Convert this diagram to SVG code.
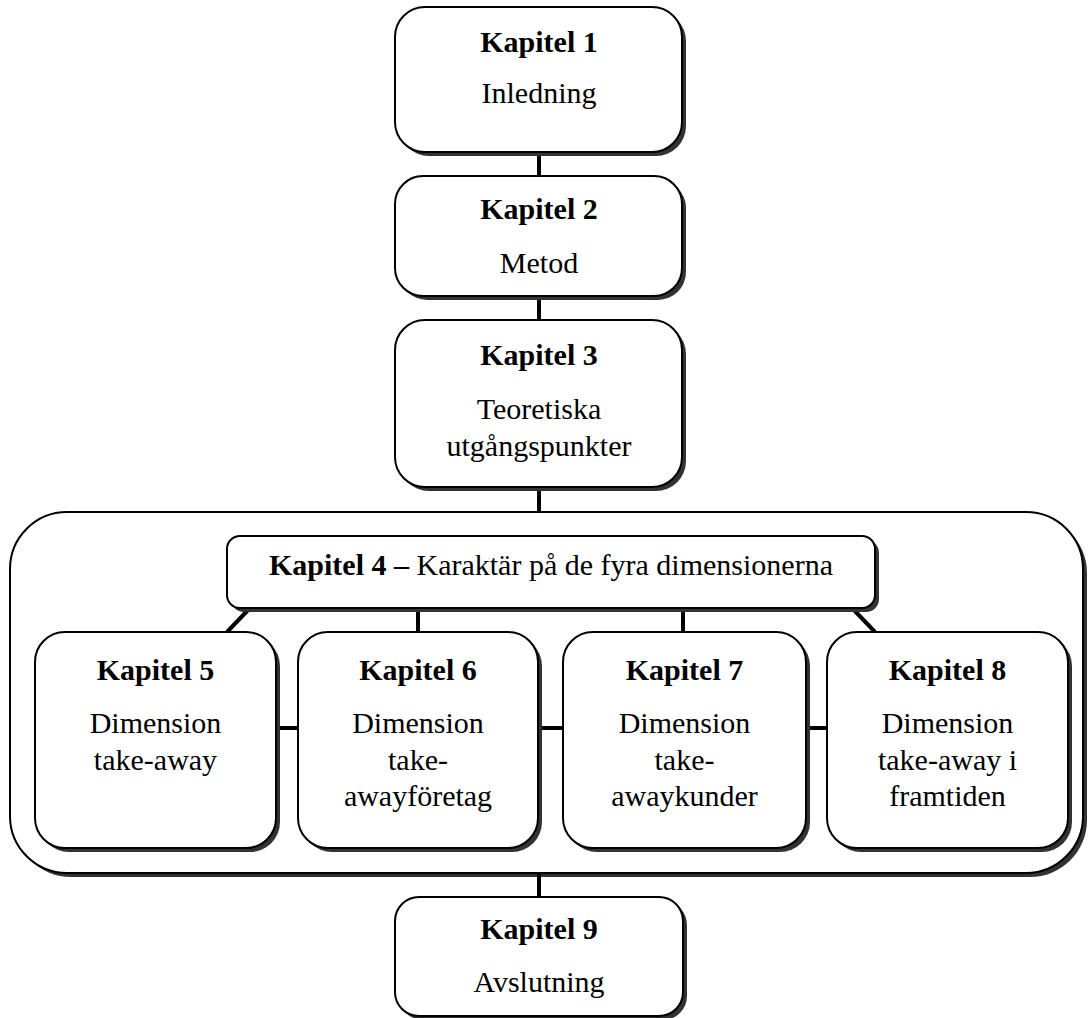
<svg xmlns="http://www.w3.org/2000/svg" width="1088" height="1018" viewBox="0 0 1088 1018">
<style>
.box{fill:#fff;stroke:#000;stroke-width:2}
.sh{fill:#333}
.t{font-family:"Liberation Serif","Times New Roman",serif;font-size:30px;fill:#000;text-anchor:middle}
.b{font-weight:bold}
.c{stroke:#000;stroke-width:4;fill:none}
</style>
<rect width="1088" height="1018" fill="#fff"/>
<g id="container">
<rect class="sh" x="14" y="516" width="1073" height="361" rx="57"/>
<rect class="box" x="10" y="512" width="1073" height="361" rx="57"/>
</g>
<g id="connectors">
<line class="c" x1="539" y1="152" x2="539" y2="176"/>
<line class="c" x1="539" y1="296" x2="539" y2="320"/>
<line class="c" x1="539" y1="487" x2="539" y2="512"/>
<line class="c" x1="539" y1="873" x2="539" y2="897"/>
<line class="c" x1="250" y1="608" x2="227" y2="632"/>
<line class="c" x1="418" y1="608" x2="418" y2="632"/>
<line class="c" x1="683" y1="608" x2="683" y2="632"/>
<line class="c" x1="852" y1="608" x2="875" y2="632"/>
<line class="c" x1="276" y1="728" x2="298" y2="728"/>
<line class="c" x1="538" y1="728" x2="563" y2="728"/>
<line class="c" x1="806" y1="728" x2="827" y2="728"/>
</g>
<g id="kap1">
<rect class="sh" x="399" y="11" width="287" height="145" rx="30"/>
<rect class="box" x="395" y="7" width="287" height="145" rx="30"/>
<text class="t b" x="539" y="52">Kapitel 1</text>
<text class="t" x="539" y="103">Inledning</text>
</g>
<g id="kap2">
<rect class="sh" x="399" y="180" width="287" height="120" rx="28"/>
<rect class="box" x="395" y="176" width="287" height="120" rx="28"/>
<text class="t b" x="539" y="219">Kapitel 2</text>
<text class="t" x="539" y="273">Metod</text>
</g>
<g id="kap3">
<rect class="sh" x="399" y="324" width="287" height="167" rx="30"/>
<rect class="box" x="395" y="320" width="287" height="167" rx="30"/>
<text class="t b" x="539" y="365">Kapitel 3</text>
<text class="t" x="539" y="419">Teoretiska</text>
<text class="t" x="539" y="456">utgångspunkter</text>
</g>
<g id="kap4">
<rect class="sh" x="231" y="540" width="648" height="72" rx="13"/>
<rect class="box" x="227" y="536" width="648" height="72" rx="13"/>
<text class="t" x="551" y="575"><tspan class="b">Kapitel 4 –</tspan> Karaktär på de fyra dimensionerna</text>
</g>
<g id="kap5">
<rect class="sh" x="39" y="636" width="241" height="216" rx="30"/>
<rect class="box" x="35" y="632" width="241" height="216" rx="30"/>
<text class="t b" x="155.5" y="680">Kapitel 5</text>
<text class="t" x="155.5" y="733">Dimension</text>
<text class="t" x="155.5" y="770">take-away</text>
</g>
<g id="kap6">
<rect class="sh" x="302" y="636" width="240" height="216" rx="30"/>
<rect class="box" x="298" y="632" width="240" height="216" rx="30"/>
<text class="t b" x="418" y="680">Kapitel 6</text>
<text class="t" x="418" y="733">Dimension</text>
<text class="t" x="418" y="770">take-</text>
<text class="t" x="418" y="806">awayföretag</text>
</g>
<g id="kap7">
<rect class="sh" x="567" y="636" width="243" height="216" rx="30"/>
<rect class="box" x="563" y="632" width="243" height="216" rx="30"/>
<text class="t b" x="684.5" y="680">Kapitel 7</text>
<text class="t" x="684.5" y="733">Dimension</text>
<text class="t" x="684.5" y="770">take-</text>
<text class="t" x="684.5" y="806">awaykunder</text>
</g>
<g id="kap8">
<rect class="sh" x="831" y="636" width="241" height="216" rx="30"/>
<rect class="box" x="827" y="632" width="241" height="216" rx="30"/>
<text class="t b" x="947.5" y="680">Kapitel 8</text>
<text class="t" x="947.5" y="733">Dimension</text>
<text class="t" x="947.5" y="770">take-away i</text>
<text class="t" x="947.5" y="806">framtiden</text>
</g>
<g id="kap9">
<rect class="sh" x="399" y="901" width="288" height="119" rx="24"/>
<rect class="box" x="395" y="897" width="288" height="119" rx="24"/>
<text class="t b" x="539" y="939">Kapitel 9</text>
<text class="t" x="539" y="992">Avslutning</text>
</g>
</svg>
